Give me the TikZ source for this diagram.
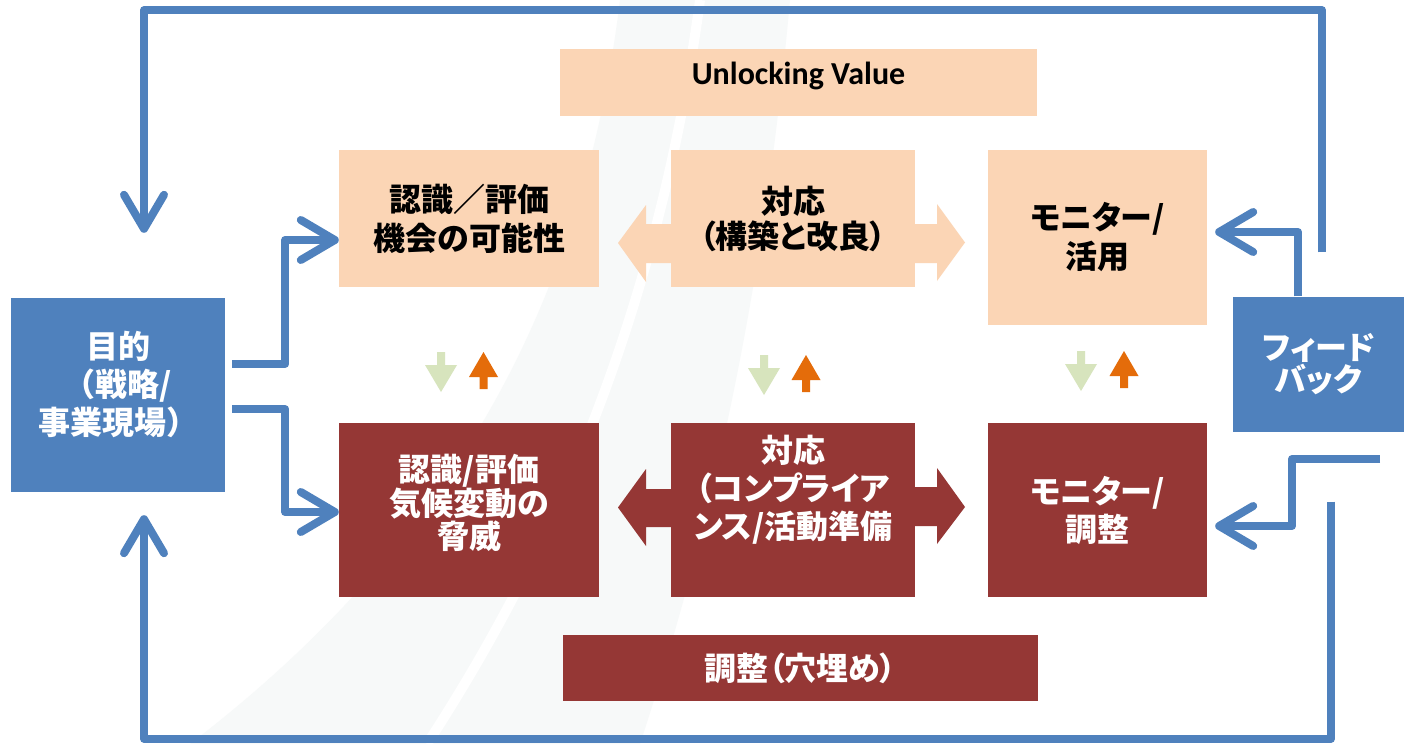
\documentclass[tikz,border=0pt]{standalone}
\usepackage{fontspec}
\setmainfont{Carlito}
\newfontfamily\jp{Noto Sans CJK JP}
\newfontfamily\jpp{Noto Sans CJK JP}[RawFeature=+palt]
\usetikzlibrary{arrows.meta}
\definecolor{oblue}{HTML}{4F81BD}
\definecolor{peach}{HTML}{FBD5B5}
\definecolor{dred}{HTML}{953735}
\definecolor{lgreen}{HTML}{D7E4BD}
\definecolor{orng}{HTML}{E46C0A}
\definecolor{bgband}{HTML}{F7F9F9}
\tikzset{
  pbox/.style={rectangle, fill=peach, inner sep=0pt, text=black, align=center},
  rbox/.style={rectangle, fill=dred, inner sep=0pt, text=white, align=center},
  bbox/.style={rectangle, fill=oblue, inner sep=0pt, text=white, align=center},
  jfont/.style={font=\jp\bfseries\fontsize{32}{#1}\selectfont},
  jfont/.default=37,
  jpfont/.style={font=\jpp\bfseries\fontsize{32}{#1}\selectfont},
  jpfont/.default=37,
  wtxt/.style={text=white, align=center, inner sep=0pt},
  bl/.style={draw=oblue, line width=8pt, line join=round},
  ar/.style={-{Straight Barb[length=34pt,width=40pt,round]}},
  gdn/.pic={\fill[lgreen] (-4,0) -- (4,0) -- (4,13) -- (16,13) -- (0,40) -- (-16,13) -- (-4,13) -- cycle;},
  oup/.pic={\fill[orng] (0,0) -- (14.5,25) -- (4,25) -- (4,37) -- (-4,37) -- (-4,25) -- (-14.5,25) -- cycle;}
}
\begin{document}
\begin{tikzpicture}[x=1pt,y=-1pt]
\useasboundingbox (0,0) rectangle (1404,744);
\fill[white] (0,0) rectangle (1404,744);
% faint background swoosh
\fill[bgband] (190,744) .. controls (430,560) and (580,330) .. (620,0) -- (790,0) .. controls (760,330) and (700,560) .. (640,744) -- cycle;
\draw[white, line width=10pt] (427,744) .. controls (560,540) and (660,300) .. (700,0);

% boxes
\node[bbox, minimum width=214, minimum height=194] (goal) at (118,395) {};
\node[wtxt, jfont=38] (goalt) at (118,384) {目的\\（戦略/\\事業現場）};
\node[pbox, minimum width=477, minimum height=67] (uv) at (798.5,82.5) {};
\node[anchor=base, inner sep=0pt, font=\bfseries\fontsize{32}{36}\selectfont] (uvt) at (798.5,84) {Unlocking Value};
\node[pbox, jfont=39, minimum width=260, minimum height=137] (r1) at (469,218.5) {認識／評価\\機会の可能性};
\node[pbox, jpfont=35, minimum width=244, minimum height=137] (m1) at (793,218.5) {対応\\（構築と改良）};
\node[pbox, jpfont=39, minimum width=219, minimum height=175] (f1) at (1097.5,237.5) {モニター/\\活用};
\node[rbox, minimum width=260, minimum height=174] (r2) at (469,510) {};
\node[wtxt, jfont=31] (r2t) at (469,502.5) {認識/評価\\気候変動の\\脅威};
\node[rbox, minimum width=244, minimum height=174] (m2) at (793,510) {};
\node[wtxt, jpfont=38] (m2t) at (793,490) {対応\\（コンプライア\\ンス/活動準備};
\node[rbox, jpfont=38, minimum width=219, minimum height=174] (f2) at (1097.5,510) {モニター/\\調整};
\node[rbox, jpfont, minimum width=475, minimum height=66] (adj) at (800.5,668) {調整（穴埋め）};
\node[bbox, jpfont=32, minimum width=171, minimum height=135] (fb) at (1318.5,364) {フィード\\バック};

% double arrows
\fill[peach] (672,224) -- (646,224) -- (646,205) -- (618,243) -- (646,282) -- (646,263) -- (672,263) -- cycle;
\fill[peach] (914,224) -- (937,224) -- (937,204) -- (965,242.5) -- (937,281) -- (937,263) -- (914,263) -- cycle;
\fill[dred] (672,489) -- (646,489) -- (646,469) -- (618,507.5) -- (646,546) -- (646,527) -- (672,527) -- cycle;
\fill[dred] (914,487) -- (937,487) -- (937,468) -- (965,507) -- (937,544) -- (937,526) -- (914,526) -- cycle;

% small arrows
\pic at (441,352) {gdn};
\pic at (483.5,352) {oup};
\pic at (764,355) {gdn};
\pic at (806,355) {oup};
\pic at (1081,351) {gdn};
\pic at (1124,351) {oup};

% blue connectors
\draw[bl, ar] ([shift={(7pt,31pt)}]goal.east) -- ++(53,0) |- ([yshift=-21.5pt]r1.west);
\draw[bl, ar] ([shift={(7pt,-14pt)}]goal.east) -- ++(53,0) |- ([yshift=-2pt]r2.west);
\draw[bl, ar, shorten <=44pt, shorten >=65pt] ([xshift=3.5pt]fb.north) -- ++(0,-286) -| ([xshift=26pt]goal.north);
\draw[bl, ar, shorten <=70pt, shorten >=23pt] ([xshift=12.5pt]fb.south) -- ++(0,307) -| ([xshift=26pt]goal.south);
\draw[bl, ar, shorten >=8pt] ([xshift=-20.5pt]fb.north) |- ([yshift=5.5pt]f1.east);
\coordinate (fbl) at (1380,459);
\draw[bl, ar, shorten >=8pt] (fbl) -- ++(-88,0) |- ([yshift=-16pt]f2.east);
\end{tikzpicture}
\end{document}
